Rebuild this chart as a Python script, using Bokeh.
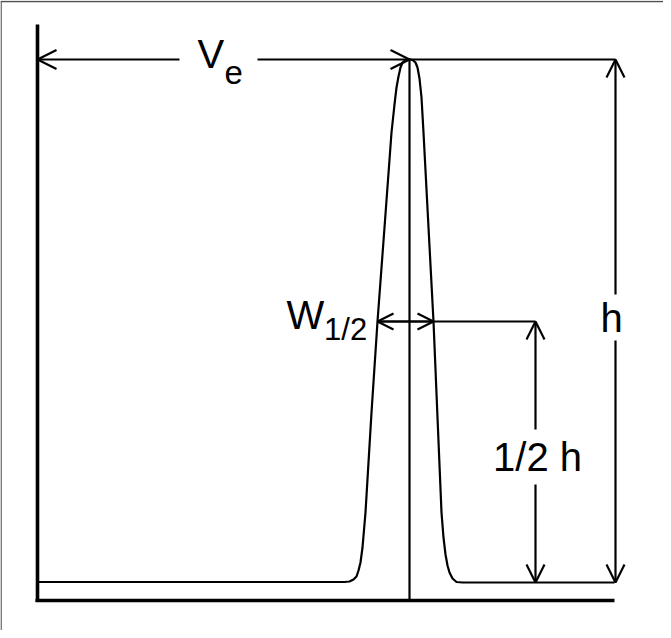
from bokeh.plotting import figure
from bokeh.models import Range1d, Arrow, OpenHead
from bokeh.core.properties import value
from bokeh.embed import file_html
from bokeh.resources import INLINE

# ---- data (diagram units; origin at the axes corner) ----
axis_top = 576          # top of the vertical axis
axis_right = 577        # right end of the horizontal axis
baseline = 18           # detector baseline
peak_volume = 372       # Ve (elution volume of the peak maximum)
peak_top = 541          # baseline + h
half_level = 279        # baseline + h/2
half_left = 340         # left edge of the peak at half height
half_right = 396        # right edge of the peak at half height
h_x = 578               # position of the "h" dimension line
half_h_x = 498          # position of the "1/2 h" dimension line

# elution profile
curve_x = [0, 305, 307, 312, 316, 319, 321, 323, 325, 328, 334, 340, 347, 354,
           357, 359, 361, 363, 365, 368, 372, 375, 378, 380, 382, 384, 386,
           391, 396, 400, 404, 406, 408, 410, 412, 415, 419, 425, 577]
curve_y = [18.5, 18.5, 18.5, 19, 21, 24, 30, 38, 53, 88, 188, 279, 373, 468,
           496, 513, 524, 533, 538, 540.5, 541.3, 540.5, 538, 533, 522, 503, 468,
           373, 279, 183, 88, 63, 46, 35, 28, 22, 18.5, 18, 18]

labels = {"Ve": ("V", "e"), "W": ("W", "1/2"), "h": "h", "half": "1/2 h"}

W_PX, H_PX = 663, 630
p = figure(width=W_PX, height=H_PX, output_backend="svg", toolbar_location=None,
           x_range=Range1d(-37, 626), y_range=Range1d(-30, 600),
           x_axis_location=None, y_axis_location=None, min_border=0)
p.grid.visible = False
p.outline_line_color = None
p.background_fill_color = "white"
p.border_fill_color = "white"

# page frame (left and top edges visible)
p.line([-36.4, -36.4], [-30, 599], line_color="#505050", line_width=1.3)
p.line([-37, 626], [599, 599], line_color="#505050", line_width=1.3)

# axes
p.line([0, 0], [-1.5, axis_top], line_color="black", line_width=3.6)
p.line([-2, axis_right], [0, 0], line_color="black", line_width=3.6)

# peak and its center line
p.line(curve_x, curve_y, line_color="black", line_width=2.2)
p.line([peak_volume, peak_volume], [0, peak_top], line_color="black", line_width=2.2)

def arrow(xs, ys, xe, ye, size):
    p.add_layout(Arrow(x_start=xs, y_start=ys, x_end=xe, y_end=ye, line_width=2.2,
                       line_color="black",
                       end=OpenHead(size=size, line_width=2.2, line_color="black")))

# Ve dimension line with gap for label
arrow(142, peak_top, 0, peak_top, 19)
arrow(220, peak_top, peak_volume, peak_top, 19)
p.line([peak_volume, h_x], [peak_top, peak_top], line_color="black", line_width=2.2)

# h dimension line
arrow(h_x, 306, h_x, peak_top, 18)
arrow(h_x, 260, h_x, baseline, 18)

# 1/2 h dimension line
arrow(half_h_x, 171, half_h_x, half_level, 18)
arrow(half_h_x, 116, half_h_x, baseline, 18)

# W1/2 line
p.line([half_left, half_h_x], [half_level, half_level], line_color="black", line_width=2.2)
arrow(peak_volume, half_level, half_left, half_level, 16)
arrow(peak_volume, half_level, half_right, half_level, 16)

font = value("Liberation Sans")
def txt(x, y, s, size):
    # correction for how the alphabetic baseline is placed
    p.text(x=[x], y=[y + 0.39 * size], text=[s], text_font=font,
           text_font_size=f"{size}px", text_color="black",
           text_align="left", text_baseline="alphabetic")

txt(160, 531, labels["Ve"][0], 40)
txt(187, 515.5, labels["Ve"][1], 33)
txt(249, 270, labels["W"][0], 40)
txt(286.6, 259, labels["W"][1], 31)
txt(563, 267, labels["h"], 40)
txt(455.6, 128, labels["half"], 40)

open("out.html", "w").write(file_html(p, INLINE))
